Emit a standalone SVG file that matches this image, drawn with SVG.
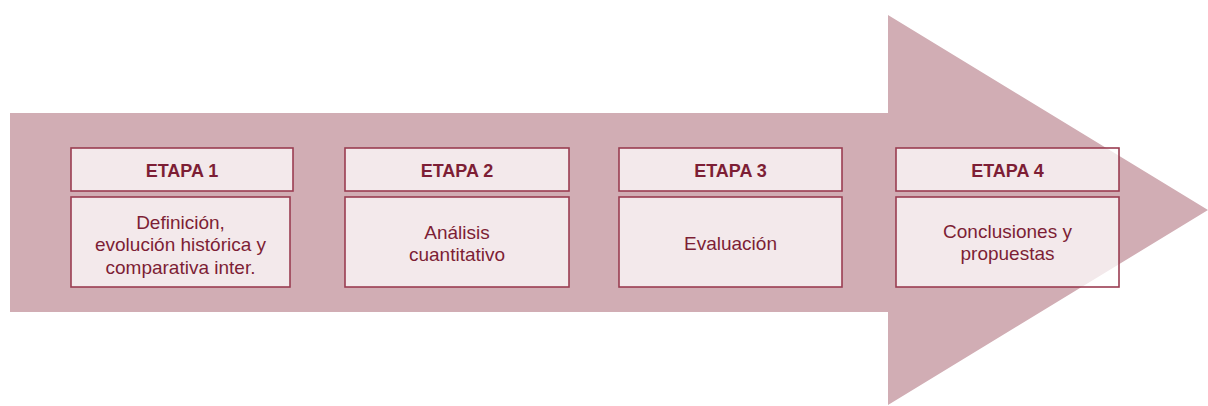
<svg xmlns="http://www.w3.org/2000/svg" width="1208" height="406" viewBox="0 0 1208 406">
<style>
.arrow{fill:#d1adb4}
.box{fill:#ffffff;fill-opacity:0.73;stroke:#9a3d52;stroke-width:1.6}
.hd{font-family:"Liberation Sans",Arial,sans-serif;font-size:18px;font-weight:bold;fill:#7d1e35;text-anchor:middle}
.bd{font-family:"Liberation Sans",Arial,sans-serif;font-size:19px;fill:#7d1e35;text-anchor:middle}
</style>
<rect width="1208" height="406" fill="#ffffff"/>
<polygon class="arrow" points="10,113 888,113 888,15 1208,210 888,405 888,312 10,312"/>
<g id="connectors"></g>
<g id="etapa1">
<rect class="box" x="71" y="148" width="222" height="43"/>
<text class="hd" x="182" y="176.5">ETAPA 1</text>
<rect class="box" x="71" y="197" width="219" height="90"/>
<text class="bd" x="180.5" y="228.5">Definición,</text>
<text class="bd" x="180.5" y="251">evolución histórica y</text>
<text class="bd" x="180.5" y="273.5">comparativa inter.</text>
</g>
<g id="etapa2">
<rect class="box" x="345" y="148" width="224" height="43"/>
<text class="hd" x="457" y="176.5">ETAPA 2</text>
<rect class="box" x="345" y="197" width="224" height="90"/>
<text class="bd" x="457" y="239">Análisis</text>
<text class="bd" x="457" y="261">cuantitativo</text>
</g>
<g id="etapa3">
<rect class="box" x="619" y="148" width="223" height="43"/>
<text class="hd" x="730.5" y="176.5">ETAPA 3</text>
<rect class="box" x="619" y="197" width="223" height="90"/>
<text class="bd" x="730.5" y="250">Evaluación</text>
</g>
<g id="etapa4">
<rect class="box" x="896" y="148" width="223" height="43"/>
<text class="hd" x="1007.5" y="176.5">ETAPA 4</text>
<rect class="box" x="896" y="197" width="223" height="90"/>
<text class="bd" x="1007.5" y="238">Conclusiones y</text>
<text class="bd" x="1007.5" y="260">propuestas</text>
</g>
</svg>
